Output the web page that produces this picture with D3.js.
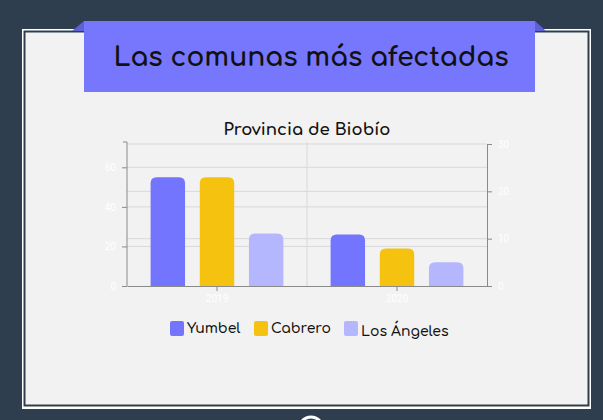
<!DOCTYPE html>
<html><head><meta charset="utf-8">
<script src="https://cdn.jsdelivr.net/npm/d3@7"></script>
<style>
html,body{margin:0;padding:0;background:#2e3e4f;overflow:hidden}
svg{display:block}
</style></head>
<body>
<script>
const categories = ["2019", "2020"];
const seriesNames = ["Yumbel", "Cabrero", "Los Ángeles"];
const yumbel = [55, 26];
const cabrero = [55, 19];
const losAngeles = [26.5, 12];
const leftTicks = [0, 20, 40, 60];
const rightTicks = [0, 10, 20, 30];
const colors = ["#7475fe", "#f4c20f", "#b5b7fe"];

const W = 603, H = 420;
const svg = d3.select("body").append("svg").attr("width", W).attr("height", H);
const font = "Comfortaa, 'Noto Sans', Lato, sans-serif";

// background
svg.append("rect").attr("width", W).attr("height", H).attr("fill", "#2e3e4f");
// card
svg.append("rect").attr("x", 22).attr("y", 29).attr("width", 569).attr("height", 380).attr("fill", "#ffffff");
svg.append("rect").attr("x", 24.5).attr("y", 31.5).attr("width", 564).attr("height", 374).attr("fill", "#f2f2f2").attr("stroke", "#2e3e4f").attr("stroke-width", 2);

// banner folds
svg.append("path").attr("d", "M72,31 L84,21 L84,31 Z").attr("fill", "#5f60d6");
svg.append("path").attr("d", "M546,31 L535,21 L535,31 Z").attr("fill", "#5f60d6");
svg.append("rect").attr("x", 84).attr("y", 21).attr("width", 451).attr("height", 71).attr("fill", "#7677fd");
svg.append("text").attr("x", 311).attr("y", 66).attr("text-anchor", "middle")
  .attr("font-family", font).attr("font-size", 26.5).attr("font-weight", 700).attr("fill", "#111")
  .text("Las comunas más afectadas");

// chart
const pLeft = 127, pRight = 487, pTop = 142, pBottom = 286;
const x0 = d3.scaleBand().domain(categories).range([pLeft, pRight]);
const x1 = d3.scaleBand().domain(seriesNames).range([0, x0.bandwidth()]).paddingInner(0.3).paddingOuter(0.48);
const yL = d3.scaleLinear().domain([0, 72.8]).range([pBottom, pTop]);
const yR = d3.scaleLinear().domain([0, 30]).range([pBottom, 144]);

svg.append("text").attr("x", 307).attr("y", 135).attr("text-anchor", "middle")
  .attr("font-family", font).attr("font-size", 16.5).attr("font-weight", 700).attr("fill", "#111")
  .text("Provincia de Biobío");

// gridlines
const g = svg.append("g");
g.selectAll(".gl").data(leftTicks.slice(1)).join("line")
  .attr("x1", pLeft).attr("x2", pRight).attr("y1", d => yL(d)).attr("y2", d => yL(d))
  .attr("stroke", "#d8d8d8");
g.selectAll(".gr").data(rightTicks.slice(1)).join("line")
  .attr("x1", pLeft).attr("x2", pRight).attr("y1", d => yR(d)).attr("y2", d => yR(d))
  .attr("stroke", "#d8d8d8");
g.append("line").attr("x1", x0("2020")).attr("x2", x0("2020")).attr("y1", pTop).attr("y2", pBottom).attr("stroke", "#d8d8d8");

// bars
const rows = categories.map((c, i) => ({cat: c, vals: [yumbel[i], cabrero[i], losAngeles[i]]}));
function topRounded(x, y, w, h, r) {
  r = Math.min(r, h / 2, w / 2);
  return `M${x},${y + h} L${x},${y + r} Q${x},${y} ${x + r},${y} L${x + w - r},${y} Q${x + w},${y} ${x + w},${y + r} L${x + w},${y + h} Z`;
}
rows.forEach(row => {
  row.vals.forEach((v, j) => {
    const bx = x0(row.cat) + x1(seriesNames[j]);
    const by = yL(v);
    svg.append("path").attr("d", topRounded(bx, by, x1.bandwidth(), pBottom - by, 6)).attr("fill", colors[j]);
  });
});

// axes
const axL = svg.append("g").attr("transform", `translate(${pLeft},0)`)
  .call(d3.axisLeft(yL).tickValues(leftTicks).tickSize(5).tickSizeOuter(0).tickPadding(6));
const axR = svg.append("g").attr("transform", `translate(${pRight},0)`)
  .call(d3.axisRight(yR).tickValues(rightTicks).tickSize(5).tickSizeOuter(0).tickPadding(6));
const axB = svg.append("g").attr("transform", `translate(0,${pBottom})`)
  .call(d3.axisBottom(x0).tickSize(5).tickSizeOuter(0).tickPadding(4));
[axL, axR, axB].forEach(a => {
  a.selectAll("path.domain").attr("stroke", "#8a8a8a");
  a.selectAll(".tick line").attr("stroke", "#8a8a8a");
  a.selectAll("text").attr("fill", "#ffffff").attr("font-family", "Roboto, sans-serif").attr("font-size", 10);
});
axL.select("path.domain").attr("d", `M-4,${pTop}H0V${pBottom}`);

// legend
const legX = [170, 254, 344];
const leg = svg.append("g");
seriesNames.forEach((s, i) => {
  leg.append("rect").attr("x", legX[i]).attr("y", 321).attr("width", 14).attr("height", 15).attr("rx", 2).attr("fill", colors[i]);
  leg.append("text").attr("x", legX[i] + 17).attr("y", i === 2 ? 336 : 333)
    .attr("font-family", font).attr("font-size", 14).attr("font-weight", 600).attr("fill", "#111").text(s);
});

// bottom circle
svg.append("circle").attr("cx", 311).attr("cy", 429).attr("r", 12).attr("fill", "none").attr("stroke", "#ffffff").attr("stroke-width", 3);
</script>
</body></html>
